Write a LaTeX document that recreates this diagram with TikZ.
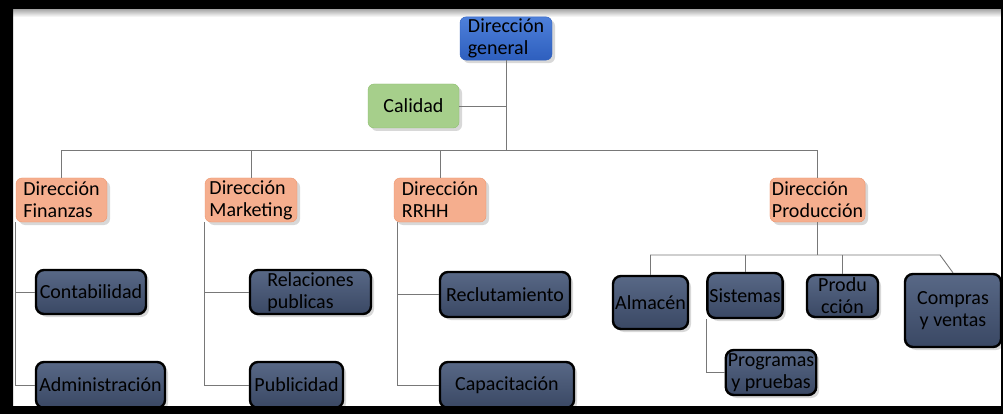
\documentclass[tikz,border=0pt]{standalone}
\usepackage{fontspec}
\setmainfont{Carlito}
\usetikzlibrary{shadows}
\definecolor{azulclaro}{RGB}{78,128,218}
\definecolor{azulgen}{RGB}{46,95,190}
\definecolor{verde}{RGB}{166,207,139}
\definecolor{verdeborde}{RGB}{140,190,110}
\definecolor{naranja}{RGB}{245,174,142}
\definecolor{naranjaborde}{RGB}{238,150,110}
\definecolor{pizarra}{RGB}{88,104,134}
\definecolor{pizarraosc}{RGB}{58,72,100}
\definecolor{linea}{RGB}{120,120,120}
\tikzset{
	caja/.style={rounded corners=6pt, align=left, inner sep=2pt, font=\fontsize{20}{22}\selectfont,
		drop shadow={opacity=0.3, shadow xshift=3pt, shadow yshift=-3pt}},
	general/.style={caja, top color=azulclaro, bottom color=azulgen, draw=azulgen},
	calidadbox/.style={caja, fill=verde, draw=verdeborde},
	direccion/.style={caja, fill=naranja, draw=naranjaborde},
	area/.style={caja, top color=pizarra, bottom color=pizarraosc, draw=black, line width=2.4pt,
		rounded corners=8pt, align=center},
	conn/.style={draw=linea, line width=0.9pt},
}

\begin{document}
\begin{tikzpicture}[x=1pt, y=-1pt]
	\useasboundingbox (0,0) rectangle (1003,414);
	\fill[white] (0,0) rectangle (1003,414);
	\shade[top color=gray!70, bottom color=white] (13,9) rectangle (1001,17);

	% direccion general y staff
	\node[general, minimum width=92pt, minimum height=43pt] (gen) at (506,38.5) {Dirección\\general};
	\node[calidadbox, minimum width=91pt, minimum height=44pt] (cal) at (413.5,106) {Calidad};

	% direcciones
	\node[direccion, minimum width=91pt, minimum height=44pt] (fin)  at (61.5,200)  {Dirección\\Finanzas};
	\node[direccion, minimum width=92pt, minimum height=44pt] (mkt)  at (251,200)   {Dirección\\Marketing};
	\node[direccion, minimum width=92pt, minimum height=44pt] (rrhh) at (440,200)   {Dirección\\RRHH};
	\node[direccion, minimum width=91pt, minimum height=44pt] (prod) at (817.5,200) {Dirección\\Producción};

	% areas
	\node[area, minimum width=110pt, minimum height=44pt] (conta)  at (91,292)    {Contabilidad};
	\node[area, minimum width=129pt, minimum height=46pt] (admin)  at (100.5,385) {Administración};
	\node[area, minimum width=121pt, minimum height=44pt, align=left] (relac) at (310.5,292) {Relaciones\\publicas};
	\node[area, minimum width=93pt,  minimum height=46pt] (publi)  at (296.5,385) {Publicidad};
	\node[area, minimum width=130pt, minimum height=45pt] (reclu)  at (505,294.5)  {Reclutamiento};
	\node[area, minimum width=134pt, minimum height=46pt] (capac)  at (507,385)   {Capacitación};
	\node[area, minimum width=75pt,  minimum height=53pt] (alm)    at (650.5,302.5) {Almacén};
	\node[area, minimum width=70pt,  minimum height=45pt] (sist)   at (745,295.5)  {Sistemas};
	\node[area, minimum width=71pt,  minimum height=42pt] (produ)  at (842.5,296)  {Produ\\cción};
	\node[area, minimum width=96pt,  minimum height=73pt] (compras) at (953,310.5) {Compras\\y ventas};
	\node[area, minimum width=90pt,  minimum height=45pt] (progr)  at (771,372.5)  {Programas\\y pruebas};

	% lineas
	\coordinate (busL) at (61.5,150);
	\coordinate (busR) at (817.5,150);
	\draw[conn] (busL) -- (busR);
	\draw[conn] (gen.south) -- (gen.south |- busL);
	\draw[conn] (cal.east) -- (cal.east -| gen.south);
	\draw[conn] (fin.north) -- (busL);
	\draw[conn] (mkt.north) -- (mkt.north |- busL);
	\draw[conn] (rrhh.north) -- (rrhh.north |- busL);
	\draw[conn] (prod.north) -- (busR);

	\draw[conn] (fin.south west) |- (admin.west);
	\draw[conn] (fin.south west |- conta.west) -- (conta.west);
	\draw[conn] (mkt.south west) |- (publi.west);
	\draw[conn] (mkt.south west |- relac.west) -- (relac.west);
	\draw[conn] ([xshift=4pt]rrhh.south west) |- (capac.west);
	\draw[conn] ([xshift=4pt]rrhh.south west |- reclu.west) -- (reclu.west);

	\coordinate (pbusR) at (940,255);
	\draw[conn] (prod.south) -- (prod.south |- pbusR);
	\draw[conn] (alm.north) -- (alm.north |- pbusR) -- (pbusR) -- (compras.north);
	\draw[conn] (sist.north) -- (sist.north |- pbusR);
	\draw[conn] (produ.north) -- (produ.north |- pbusR);
	\draw[conn] (sist.south west) |- (progr.west);

	% marco
	\fill[black, even odd rule] (0,0) rectangle (1003,414) (13,9) rectangle (1001,406);
\end{tikzpicture}
\end{document}
